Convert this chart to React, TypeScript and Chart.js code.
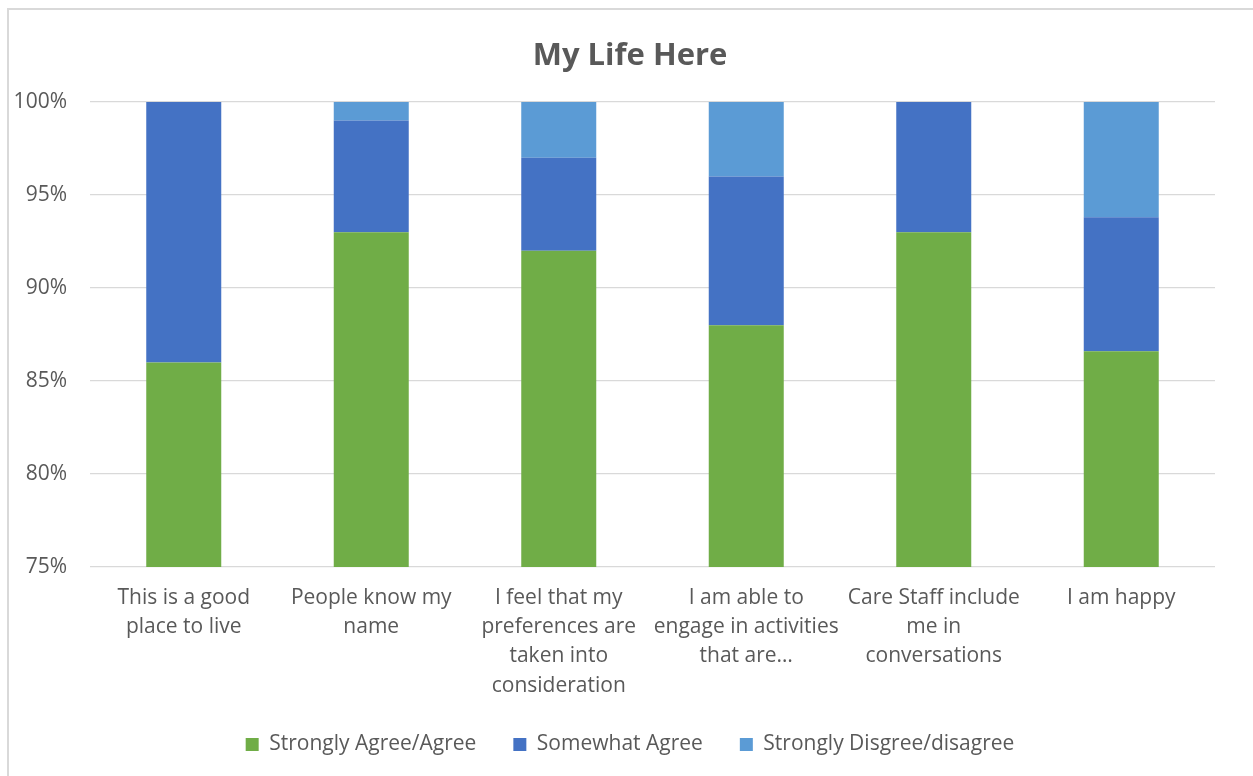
import React, { useEffect, useRef } from "react";
import { Chart, registerables } from "chart.js";

Chart.register(...registerables);

const titleText = "My Life Here";
const categories: string[][] = [
  ["This is a good", "place to live"],
  ["People know my", "name"],
  ["I feel that my", "preferences are", "taken into", "consideration"],
  ["I am able to", "engage in activities", "that are…"],
  ["Care Staff include", "me in", "conversations"],
  ["I am happy"],
];
const seriesNames = ["Strongly Agree/Agree", "Somewhat Agree", "Strongly Disgree/disagree"];
const agree = [86, 93, 92, 88, 93, 86.6];
const somewhat = [14, 6, 5, 8, 7, 7.2];
const disagree = [0, 1, 3, 4, 0, 6.2];
const yMin = 75;
const yMax = 100;
const yStep = 5;

const FONT = "'Open Sans', Lato, sans-serif";
const TEXT = "#595959";

export default function App() {
  const ref = useRef<HTMLCanvasElement | null>(null);
  useEffect(() => {
    if (!ref.current) return;
    const chart = new Chart(ref.current, {
      type: "bar",
      data: {
        labels: categories,
        datasets: [
          { label: seriesNames[0], data: agree, backgroundColor: "#70AD47" },
          { label: seriesNames[1], data: somewhat, backgroundColor: "#4472C4" },
          { label: seriesNames[2], data: disagree, backgroundColor: "#5B9BD5" },
        ],
      },
      options: {
        animation: false,
        responsive: false,
        maintainAspectRatio: false,
        layout: { padding: { left: 0, right: 0, top: 0, bottom: 11 } },
        datasets: { bar: { categoryPercentage: 1, barPercentage: 0.4 } },
        plugins: {
          title: {
            display: true,
            text: titleText,
            color: TEXT,
            font: { family: FONT, size: 31, weight: "bold", lineHeight: 1.2 },
            padding: { top: 30, bottom: 26.8 },
          },
          legend: {
            position: "bottom",
            labels: {
              color: TEXT,
              font: { family: FONT, size: 21 },
              boxWidth: 13,
              boxHeight: 13,
              padding: 37,
            },
          },
          tooltip: { enabled: false },
        },
        scales: {
          x: {
            stacked: true,
            grid: { display: false, drawTicks: false },
            border: { display: false },
            ticks: {
              color: TEXT,
              font: { family: FONT, size: 21, lineHeight: 1.4 },
              padding: 16,
              maxRotation: 0,
              autoSkip: false,
            },
            afterFit: (s: any) => {
              s.height = 130;
            },
          },
          y: {
            stacked: true,
            min: yMin,
            max: yMax,
            grid: { color: "#d9d9d9", lineWidth: 1.3, drawTicks: false },
            border: { display: false },
            ticks: {
              stepSize: yStep,
              color: TEXT,
              font: { family: FONT, size: 21 },
              padding: 23,
              callback: (v: any) => v + "%",
            },
            afterFit: (s: any) => {
              s.width = 83;
            },
          },
          yRight: {
            position: "right",
            display: true,
            min: yMin,
            max: yMax,
            grid: { display: false, drawTicks: false },
            border: { display: false },
            ticks: { display: false },
            afterFit: (s: any) => {
              s.width = 38;
            },
          },
        },
      },
    });
    return () => chart.destroy();
  }, []);
  return (
    <div
      style={{
        position: "absolute",
        left: 7,
        top: 8,
        width: 1246,
        height: 768,
        boxShadow: "inset 2px 2px 0 #d9d9d9",
        background: "#fff",
      }}
    >
      <canvas ref={ref} width={1246} height={768} style={{ display: "block" }} />
    </div>
  );
}
